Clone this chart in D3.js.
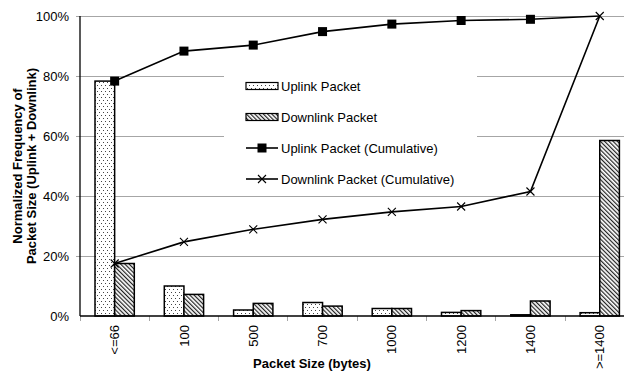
<!DOCTYPE html>
<html>
<head>
<meta charset="utf-8">
<script src="https://cdn.jsdelivr.net/npm/d3@7/dist/d3.min.js"></script>
<style>
  html, body { margin: 0; padding: 0; background: #fff; }
  svg { display: block; font-family: "Liberation Sans", Arial, sans-serif; }
</style>
</head>
<body>
<svg id="chart" width="624" height="374"></svg>
<script>
// Packet size buckets (bytes)
const categories = ["<=66", "100", "500", "700", "1000", "1200", "1400", ">=1400"];
// Normalized frequency per bucket (%)
const uplinkPct   = [78.3, 10.0, 2.0, 4.5, 2.5, 1.2, 0.4, 1.1];
const downlinkPct = [17.5, 7.2, 4.2, 3.3, 2.5, 1.8, 5.0, 58.5];
// Running totals (%)
const uplinkCum   = [78.3, 88.3, 90.3, 94.8, 97.3, 98.5, 98.9, 100];
const downlinkCum = [17.5, 24.7, 28.9, 32.2, 34.7, 36.5, 41.5, 100];
const yTicks = [0, 20, 40, 60, 80, 100];
const seriesNames = ["Uplink Packet", "Downlink Packet"];
const lineNames = ["Uplink Packet (Cumulative)", "Downlink Packet (Cumulative)"];

(function () {
const svg = d3.select("#chart");
const pLeft = 80, pTop = 16, pBottom = 316, pRight = 634.4;
const fs = 13;

const x = d3.scaleBand().domain(categories).range([pLeft, pRight]).padding(0);
const xs = d3.scaleBand().domain([0, 1]).range([15, x.bandwidth() - 15]).padding(0);
const y = d3.scaleLinear().domain([0, 100]).range([pBottom, pTop]);

// Fill patterns
const defs = svg.append("defs");
const dots = defs.append("pattern").attr("id", "dots").attr("patternUnits", "userSpaceOnUse")
  .attr("width", 4).attr("height", 6);
dots.append("rect").attr("width", 4).attr("height", 6).attr("fill", "#fff");
dots.append("rect").attr("x", 1).attr("y", 1).attr("width", 1).attr("height", 1).attr("fill", "#444");
dots.append("rect").attr("x", 3).attr("y", 4).attr("width", 1).attr("height", 1).attr("fill", "#444");

const hatch = defs.append("pattern").attr("id", "hatch").attr("patternUnits", "userSpaceOnUse")
  .attr("width", 3).attr("height", 3).attr("patternTransform", "rotate(-45)");
hatch.append("rect").attr("width", 3).attr("height", 3).attr("fill", "#fff");
hatch.append("line").attr("x1", 0.6).attr("y1", 0).attr("x2", 0.6).attr("y2", 3)
  .attr("stroke", "#222").attr("stroke-width", 1.2);

// Grid lines
svg.append("g").selectAll("line").data(yTicks.filter(d => d > 0)).join("line")
  .attr("x1", pLeft - 4).attr("x2", 624).attr("y1", d => y(d)).attr("y2", d => y(d))
  .attr("stroke", "#a6a6a6").attr("stroke-width", 1).attr("shape-rendering", "crispEdges");

// Y axis labels
svg.append("g").selectAll("text").data(yTicks).join("text")
  .attr("x", pLeft - 11).attr("y", d => y(d)).attr("dy", "0.35em")
  .attr("text-anchor", "end").attr("font-size", fs).attr("fill", "#000")
  .text(d => d + "%");

// X tick marks at bucket boundaries
const bounds = categories.map(c => x(c));
svg.append("g").selectAll("line").data(bounds).join("line")
  .attr("x1", d => d).attr("x2", d => d).attr("y1", pBottom).attr("y2", pBottom + 5)
  .attr("stroke", "#a6a6a6").attr("shape-rendering", "crispEdges");

// Legend backdrop (drawn over grid, under data)
const lg = svg.append("g");
lg.append("rect").attr("x", 224).attr("y", 70).attr("width", 253).attr("height", 122).attr("fill", "#fff");

// Bars
const fills = ["url(#dots)", "url(#hatch)"];
const barData = [];
categories.forEach((c, i) => {
  barData.push({ c, s: 0, v: uplinkPct[i] });
  barData.push({ c, s: 1, v: downlinkPct[i] });
});
svg.append("g").selectAll("rect").data(barData).join("rect")
  .attr("x", d => x(d.c) + xs(d.s)).attr("width", xs.bandwidth())
  .attr("y", d => y(d.v)).attr("height", d => y(0) - y(d.v))
  .attr("fill", d => fills[d.s]).attr("stroke", "#000").attr("stroke-width", 1.5);

// Axis lines
svg.append("line").attr("x1", pLeft).attr("x2", pLeft).attr("y1", pTop).attr("y2", pBottom)
  .attr("stroke", "#000").attr("stroke-width", 1.3);
svg.append("line").attr("x1", pLeft).attr("x2", 624).attr("y1", pBottom).attr("y2", pBottom)
  .attr("stroke", "#000").attr("stroke-width", 1.3);

// Cumulative lines
const cx = c => x(c) + x.bandwidth() / 2;
const line = d3.line().x(d => cx(d[0])).y(d => y(d[1]));
const upPts = categories.map((c, i) => [c, uplinkCum[i]]);
const dnPts = categories.map((c, i) => [c, downlinkCum[i]]);
svg.append("path").attr("d", line(upPts)).attr("fill", "none").attr("stroke", "#000").attr("stroke-width", 1.6);
svg.append("path").attr("d", line(dnPts)).attr("fill", "none").attr("stroke", "#000").attr("stroke-width", 1.6);

const square = (g, px, py) => g.append("rect").attr("x", px - 4.5).attr("y", py - 4.5)
  .attr("width", 9).attr("height", 9).attr("fill", "#000");
const cross = (g, px, py) => g.append("path")
  .attr("d", `M${px - 4},${py - 4}L${px + 4},${py + 4}M${px - 4},${py + 4}L${px + 4},${py - 4}`)
  .attr("stroke", "#000").attr("stroke-width", 1.1).attr("fill", "none");

// The closing 100% point is shared by both series; only the cross is shown there
const mk = svg.append("g");
upPts.slice(0, -1).forEach(p => square(mk, cx(p[0]), y(p[1])));
dnPts.forEach(p => cross(mk, cx(p[0]), y(p[1])));

// X tick labels (rotated)
svg.append("g").selectAll("text").data(categories).join("text")
  .attr("transform", d => `translate(${cx(d)},${pBottom + 9}) rotate(-90)`)
  .attr("text-anchor", "end").attr("dy", "0.35em").attr("font-size", fs).attr("fill", "#000")
  .text(d => d);

// Axis titles
svg.append("text").attr("x", 312).attr("y", 368).attr("text-anchor", "middle")
  .attr("font-size", fs).attr("font-weight", "bold").text("Packet Size (bytes)");
const yt = svg.append("text").attr("transform", `translate(17,${(pTop + pBottom) / 2}) rotate(-90)`)
  .attr("text-anchor", "middle").attr("font-size", fs).attr("font-weight", "bold");
yt.append("tspan").attr("x", 0).attr("dy", "0.35em").text("Normalized Frequency of");
yt.append("tspan").attr("x", 0).attr("dy", "1.1em").text("Packet Size (Uplink + Downlink)");

// Legend entries
const rowY = [86, 117, 148, 179];
const lx = 246, lw = 32;
seriesNames.forEach((n, i) => {
  lg.append("rect").attr("x", lx).attr("y", rowY[i] - 3.5).attr("width", lw).attr("height", 7)
    .attr("fill", fills[i]).attr("stroke", "#000").attr("stroke-width", 1.2);
});
lineNames.forEach((n, i) => {
  const yy = rowY[i + 2];
  lg.append("line").attr("x1", lx).attr("x2", lx + lw).attr("y1", yy).attr("y2", yy)
    .attr("stroke", "#000").attr("stroke-width", 1.6);
  if (i === 0) square(lg, lx + lw / 2, yy); else cross(lg, lx + lw / 2, yy);
});
[...seriesNames, ...lineNames].forEach((n, i) => {
  lg.append("text").attr("x", lx + lw + 3).attr("y", rowY[i]).attr("dy", "0.35em")
    .attr("font-size", fs).attr("fill", "#000").text(n);
});
})();
</script>
</body>
</html>
